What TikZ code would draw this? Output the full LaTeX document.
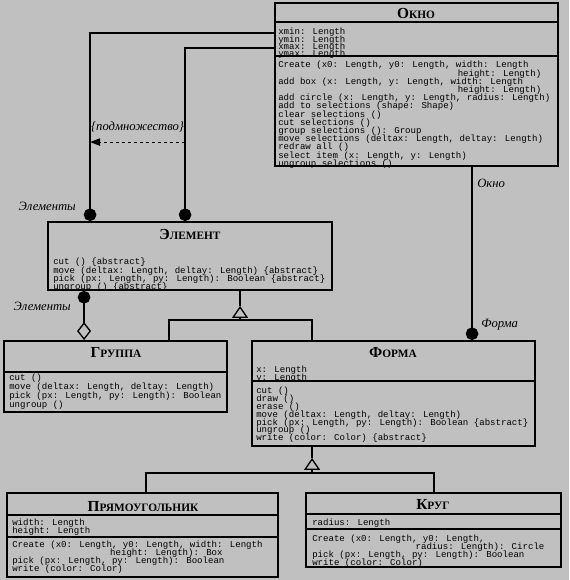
\documentclass[tikz,border=0pt]{standalone}
\usepackage{fontspec}
\setmainfont{Liberation Serif}
\newfontfamily\monofam{Liberation Mono}
\usetikzlibrary{arrows.meta, positioning, calc, fit}
\definecolor{canvas}{RGB}{192,192,192}

\newcommand\memfont[1]{\monofam\fontsize{6.8pt}{#1}\selectfont\lineskiplimit=-\maxdimen}
\newcommand\scn[2]{#1{\fontsize{8.5pt}{10pt}\selectfont #2}}
\newcommand\pad[1]{\hspace*{\dimexpr 4.08pt*#1\relax}}

\begin{document}
\begin{tikzpicture}[
    x={(0.75pt,0)}, y={(0,-0.75pt)},
    cls/.style={draw, line width=1.4pt, inner sep=0pt, fill=canvas},
    clstitle/.style={font=\fontsize{11.5pt}{13pt}\selectfont\bfseries, inner sep=0pt},
    members/.style={font=\memfont{#1}, align=left, anchor=north west, inner sep=0pt},
    members/.default=6.15pt,
    compline/.style={line width=1pt},
    role/.style={font=\fontsize{9.5pt}{11pt}\selectfont\itshape, inner sep=0pt},
    assoc/.style={line width=1pt, -{Circle[length=9.5pt]}},
    aggr/.style={line width=1pt, {Circle[length=9.5pt]}-{Diamond[open, length=13.5pt, width=10.5pt]}},
    gen/.style={line width=1pt, -{Triangle[open, length=9pt, width=12pt]}},
    genline/.style={line width=1pt},
    subset/.style={line width=0.8pt, dash pattern=on 2.5pt off 2pt, -{Triangle[length=7.5pt, width=5.5pt]}}
  ]

    % Background and bounding box
    \fill[canvas] (0,0) rectangle (569,580);
    \useasboundingbox (0,0) rectangle (569,580);

    % Class boxes
    \node[cls, fit={(275,3) (558,166)}] (okno) {};
    \node[cls, fit={(48,222) (332,290)}] (elem) {};
    \node[cls, fit={(4,341) (227,412)}] (grp) {};
    \node[cls, fit={(252,341) (535,446)}] (forma) {};
    \node[cls, fit={(7,493) (278,577)}] (rect) {};
    \node[cls, fit={(306,493) (561,567)}] (circ) {};

    % Compartment lines
    \draw[compline] (okno.north west) ++(0,20) -- ++(283,0);
    \draw[compline] (okno.north west) ++(0,54) -- ++(283,0);
    \draw[compline] (grp.north west) ++(0,32) -- ++(223,0);
    \draw[compline] (forma.north west) ++(0,41) -- ++(283,0);
    \draw[compline] (rect.north west) ++(0,23) -- ++(271,0);
    \draw[compline] (rect.north west) ++(0,45) -- ++(271,0);
    \draw[compline] (circ.north west) ++(0,22) -- ++(255,0);
    \draw[compline] (circ.north west) ++(0,37) -- ++(255,0);

    % Okno
    \node[clstitle] (okno-t) at (416,14) {\scn{О}{КНО}};
    \node[members=5.4pt] (okno-a) at (278,28) {xmin: Length\\ymin: Length\\xmax: Length\\ymax: Length};
    \node[members] (okno-o) at (278,61) {Create (x0: Length, y0: Length, width: Length\\
      \pad{33}height: Length)\\
      add box (x: Length, y: Length, width: Length\\
      \pad{33}height: Length)\\
      add circle (x: Length, y: Length, radius: Length)\\
      add to selections (shape: Shape)\\
      clear selections ()\\
      cut selections ()\\
      group selections (): Group\\
      move selections (deltax: Length, deltay: Length)\\
      redraw all ()\\
      select item (x: Length, y: Length)\\
      ungroup selections ()};

    % Element
    \node[clstitle] (elem-t) at (190,234) {\scn{Э}{ЛЕМЕНТ}};
    \node[members=6.25pt] (elem-o) at (53,258) {cut () \{abstract\}\\
      move (deltax: Length, deltay: Length) \{abstract\}\\
      pick (px: Length, py: Length): Boolean \{abstract\}\\
      ungroup () \{abstract\}};

    % Gruppa
    \node[clstitle] (grp-t) at (116,353) {\scn{Г}{РУППА}};
    \node[members=6.6pt] (grp-o) at (9,374) {cut ()\\
      move (deltax: Length, deltay: Length)\\
      pick (px: Length, py: Length): Boolean\\
      ungroup ()};

    % Forma
    \node[clstitle] (forma-t) at (393,353) {\scn{Ф}{ОРМА}};
    \node[members=6pt] (forma-a) at (256,366) {x: Length\\y: Length};
    \node[members=5.85pt] (forma-o) at (256,387) {cut ()\\
      draw ()\\
      erase ()\\
      move (deltax: Length, deltay: Length)\\
      pick (px: Length, py: Length): Boolean \{abstract\}\\
      ungroup ()\\
      write (color: Color) \{abstract\}};

    % Rectangle
    \node[clstitle] (rect-t) at (143,507) {\scn{П}{РЯМОУГОЛЬНИК}};
    \node[members=6pt] (rect-a) at (12,519) {width: Length\\height: Length};
    \node[members=6pt] (rect-o) at (12,541) {Create (x0: Length, y0: Length, width: Length\\
      \pad{18}height: Length): Box\\
      pick (px: Length, py: Length): Boolean\\
      write (color: Color)};

    % Circle
    \node[clstitle] (circ-t) at (433,505) {\scn{К}{РУГ}};
    \node[members] (circ-a) at (312,519) {radius: Length};
    \node[members=5.8pt] (circ-o) at (312,535) {Create (x0: Length, y0: Length,\\
      \pad{19}radius: Length): Circle\\
      pick (px: Length, py: Length): Boolean\\
      write (color: Color)};

    % Okno -- Element associations
    \draw[assoc] ($(okno.north west)+(0,31)$) -| ($(elem.north west)+(43,0)$) coordinate (e1);
    \draw[assoc] ($(okno.north west)+(0,46)$) -| ($(elem.north west)+(138,0)$) coordinate (e2);
    \node[role, anchor=east] (e1-l) at ($(e1)+(-14,-15)$) {Элементы};

    % subset constraint
    \coordinate (subA) at ($(e2)+(0,-79)$);
    \coordinate (subB) at ($(e1)+(0,-79)$);
    \draw[subset] (subA) -- (subB);
    \node[role] (sub-l) at ($(subA)!0.5!(subB)+(0,-15)$) {\{подмножество\}};

    % Okno -- Forma
    \draw[assoc] ($(okno.south west)+(198,0)$) coordinate (ow) -- (ow |- forma.north);
    \node[role, anchor=west] (ow-l) at ($(ow)+(5,16)$) {Окно};
    \node[role, anchor=west] (fw-l) at ($(ow |- forma.north)+(9,-15)$) {Форма};

    % Element -- Gruppa aggregation
    \draw[aggr] ($(elem.south west)+(37,0)$) coordinate (ea) -- (ea |- grp.north);
    \node[role, anchor=east] (ea-l) at ($(ea)+(-13,15)$) {Элементы};

    % Generalization Element
    \coordinate (g1) at ($(elem.south west)+(193,29)$);
    \draw[genline] (elem.south -| g1) -- ++(0,15);
    \draw[gen] (g1) -- ++(0,-14);
    \draw[genline] ($(grp.north west)+(166,0)$) |- (g1) -| ($(forma.north west)+(61,0)$);

    % Generalization Forma
    \coordinate (g2) at ($(forma.south west)+(61,26)$);
    \draw[genline] (forma.south -| g2) -- ++(0,11);
    \draw[gen] (g2) -- ++(0,-15);
    \draw[genline] ($(rect.north west)+(140,0)$) |- (g2) -| ($(circ.north west)+(129,0)$);

\end{tikzpicture}
\end{document}
